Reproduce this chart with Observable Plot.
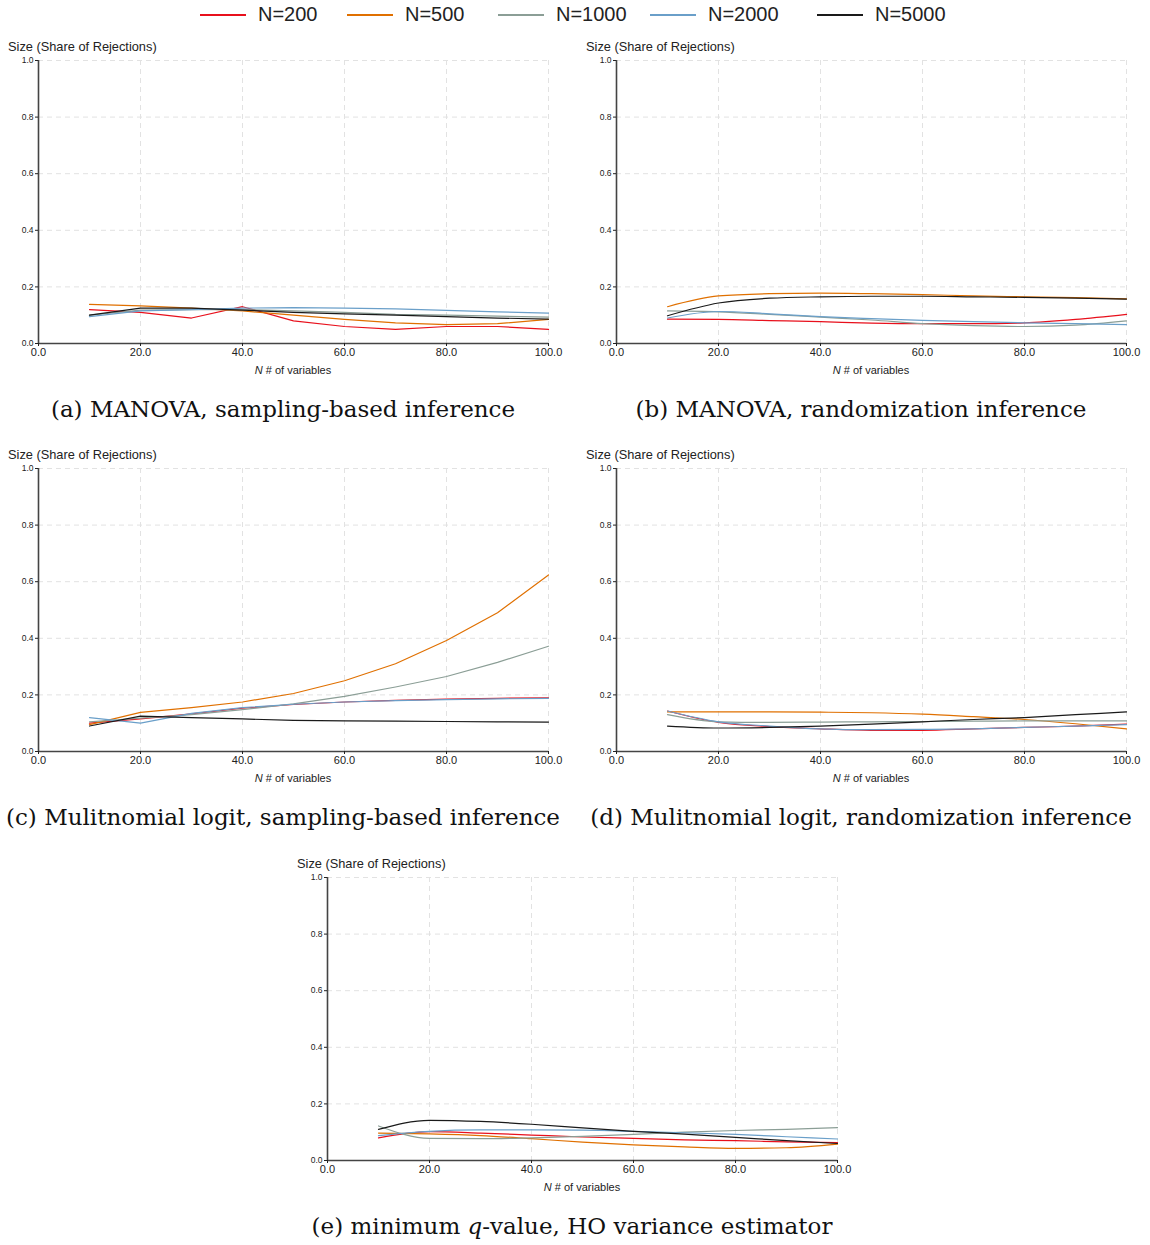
<!DOCTYPE html>
<html>
<head>
<meta charset="utf-8">
<script src="https://cdn.jsdelivr.net/npm/d3@7"></script>
<script src="https://cdn.jsdelivr.net/npm/@observablehq/plot@0.6"></script>
<style>
  html, body { margin: 0; padding: 0; background: #fff; }
  #root { position: relative; width: 1150px; height: 1245px; font-family: "Liberation Sans", Arial, sans-serif; color: #222; overflow: hidden; }
  .abs { position: absolute; }
  .ylab { font-size: 12.8px; line-height: 13px; white-space: nowrap; }
  .xlab { font-size: 11px; white-space: nowrap; transform: translateX(-50%); }
  .cap { font-family: "DejaVu Serif", serif; font-size: 23px; white-space: nowrap; transform: translateX(-50%); color: #111; }
  .leg { font-size: 20px; white-space: nowrap; display: flex; align-items: center; }
  .sw { display: inline-block; width: 46px; height: 0; border-top: 2px solid; margin-right: 12px; }
</style>
</head>
<body>
<div id="root"></div>
<script>
// ---------- data ----------
const xVars = [10, 20, 30, 40, 50, 60, 70, 80, 90, 100];
const seriesNames = ["N=200", "N=500", "N=1000", "N=2000", "N=5000"];
const seriesColors = ["#e8101c", "#e07000", "#8b9e96", "#6a9fc9", "#1a1a1a"];
const yTicks = [0, 0.2, 0.4, 0.6, 0.8, 1.0];
const xTicks = [0, 20, 40, 60, 80, 100];

// (a) MANOVA, sampling-based inference
const a200  = [0.120, 0.110, 0.090, 0.130, 0.080, 0.060, 0.050, 0.060, 0.060, 0.050];
const a500  = [0.138, 0.133, 0.125, 0.115, 0.100, 0.085, 0.073, 0.067, 0.070, 0.085];
const a1000 = [0.100, 0.118, 0.120, 0.120, 0.115, 0.110, 0.103, 0.100, 0.097, 0.093];
const a2000 = [0.095, 0.115, 0.120, 0.125, 0.127, 0.125, 0.122, 0.117, 0.112, 0.107];
const a5000 = [0.100, 0.125, 0.125, 0.118, 0.110, 0.105, 0.100, 0.095, 0.090, 0.086];

// (b) MANOVA, randomization inference
const b200  = [0.086, 0.085, 0.081, 0.077, 0.072, 0.070, 0.070, 0.073, 0.085, 0.103];
const b500  = [0.130, 0.168, 0.176, 0.178, 0.176, 0.173, 0.168, 0.165, 0.162, 0.158];
const b1000 = [0.115, 0.112, 0.103, 0.093, 0.083, 0.070, 0.063, 0.060, 0.065, 0.080];
const b2000 = [0.090, 0.113, 0.105, 0.095, 0.088, 0.082, 0.077, 0.073, 0.070, 0.067];
const b5000 = [0.098, 0.143, 0.160, 0.165, 0.167, 0.167, 0.165, 0.163, 0.160, 0.157];

// (c) Multinomial logit, sampling-based inference
const c200  = [0.100, 0.115, 0.133, 0.153, 0.166, 0.175, 0.181, 0.185, 0.188, 0.190];
const c500  = [0.095, 0.138, 0.155, 0.175, 0.205, 0.250, 0.310, 0.392, 0.490, 0.624];
const c1000 = [0.105, 0.118, 0.130, 0.148, 0.168, 0.195, 0.228, 0.265, 0.315, 0.372];
const c2000 = [0.120, 0.100, 0.135, 0.155, 0.167, 0.175, 0.180, 0.183, 0.186, 0.188];
const c5000 = [0.090, 0.125, 0.120, 0.115, 0.110, 0.108, 0.107, 0.106, 0.105, 0.104];

// (d) Multinomial logit, randomization inference
const d200  = [0.143, 0.103, 0.088, 0.080, 0.075, 0.075, 0.080, 0.085, 0.090, 0.097];
const d500  = [0.140, 0.140, 0.140, 0.139, 0.137, 0.132, 0.123, 0.113, 0.098, 0.080];
const d1000 = [0.130, 0.105, 0.103, 0.104, 0.105, 0.106, 0.107, 0.108, 0.108, 0.108];
const d2000 = [0.143, 0.105, 0.090, 0.080, 0.077, 0.078, 0.080, 0.085, 0.090, 0.095];
const d5000 = [0.090, 0.083, 0.085, 0.090, 0.097, 0.105, 0.113, 0.120, 0.130, 0.140];

// (e) minimum q-value, HO variance estimator
const e200  = [0.080, 0.102, 0.097, 0.090, 0.083, 0.078, 0.073, 0.070, 0.066, 0.063];
const e500  = [0.097, 0.094, 0.088, 0.077, 0.065, 0.055, 0.048, 0.043, 0.045, 0.058];
const e1000 = [0.122, 0.078, 0.077, 0.080, 0.085, 0.092, 0.100, 0.106, 0.110, 0.116];
const e2000 = [0.088, 0.103, 0.108, 0.108, 0.107, 0.103, 0.098, 0.092, 0.084, 0.076];
const e5000 = [0.110, 0.142, 0.138, 0.128, 0.115, 0.103, 0.093, 0.082, 0.070, 0.060];

const captions = [
  "(a) MANOVA, sampling-based inference",
  "(b) MANOVA, randomization inference",
  "(c) Mulitnomial logit, sampling-based inference",
  "(d) Mulitnomial logit, randomization inference"
];

// ---------- helpers ----------
function toRows(arrs) {
  return arrs.flatMap((arr, i) => arr.map((v, j) => ({x: xVars[j], y: v, s: seriesNames[i]})));
}

const root = document.getElementById("root");

function addDiv(cls, left, top, html) {
  const d = document.createElement("div");
  d.className = "abs " + cls;
  d.style.left = left + "px";
  d.style.top = top + "px";
  d.innerHTML = html;
  root.appendChild(d);
  return d;
}

const M_LEFT = 38, M_TOP = 20, PLOT_W = 510, PLOT_H = 283;

function panel(arrs, axisX, topY, captionHtml, captionY, curve) {
  const data = toRows(arrs);
  const chart = Plot.plot({
    width: M_LEFT + PLOT_W + 20,
    height: M_TOP + PLOT_H + 30,
    marginLeft: M_LEFT, marginRight: 20, marginTop: M_TOP, marginBottom: 30,
    style: {background: "#fff", color: "#222", fontFamily: "Liberation Sans, Arial, sans-serif", overflow: "visible"},
    x: {domain: [0, 100]},
    y: {domain: [0, 1]},
    color: {domain: seriesNames, range: seriesColors},
    marks: [
      Plot.gridX(xTicks.slice(1), {stroke: "#e2e2e2", strokeOpacity: 1, strokeDasharray: "5,4"}),
      Plot.gridY(yTicks.slice(1), {stroke: "#e2e2e2", strokeOpacity: 1, strokeDasharray: "5,4"}),
      Plot.ruleX([0], {stroke: "#444", strokeWidth: 1.6}),
      Plot.ruleY([0], {stroke: "#444", strokeWidth: 1.6}),
      Plot.axisX(xTicks, {tickFormat: d3.format(".1f"), fontSize: 11, tickSize: 3, tickPadding: 2, label: null}),
      Plot.axisY(yTicks, {tickFormat: d3.format(".1f"), fontSize: 8.5, tickSize: 3, tickPadding: 2, label: null}),
      Plot.line(data, {x: "x", y: "y", z: "s", stroke: "s", strokeWidth: 1.2, curve})
    ]
  });
  const left = axisX - M_LEFT;
  chart.style.position = "absolute";
  chart.style.left = left + "px";
  chart.style.top = (topY - M_TOP) + "px";
  root.appendChild(chart);
  addDiv("ylab", axisX - 30, topY - 20, "Size (Share of Rejections)");
  addDiv("xlab", axisX + PLOT_W / 2, topY + PLOT_H + 21, "<i>N</i> # of variables");
  addDiv("cap", axisX + PLOT_W / 2 - 10, captionY, captionHtml);
}

// ---------- legend ----------
const legendX = [200, 347, 498, 650, 817];
seriesNames.forEach((name, i) => {
  const d = addDiv("leg", legendX[i], 3, "");
  const sw = document.createElement("span");
  sw.className = "sw";
  sw.style.borderColor = seriesColors[i];
  d.appendChild(sw);
  d.appendChild(document.createTextNode(name));
});

// ---------- panels ----------
panel([a200, a500, a1000, a2000, a5000], 38, 60, captions[0], 396, "linear");
panel([b200, b500, b1000, b2000, b5000], 616, 60, captions[1], 396, "monotone-x");
panel([c200, c500, c1000, c2000, c5000], 38, 468, captions[2], 804, "linear");
panel([d200, d500, d1000, d2000, d5000], 616, 468, captions[3], 804, "monotone-x");
panel([e200, e500, e1000, e2000, e5000], 327, 877, "(e) minimum <i>q</i>-value, HO variance estimator", 1213, "monotone-x");
</script>
</body>
</html>
